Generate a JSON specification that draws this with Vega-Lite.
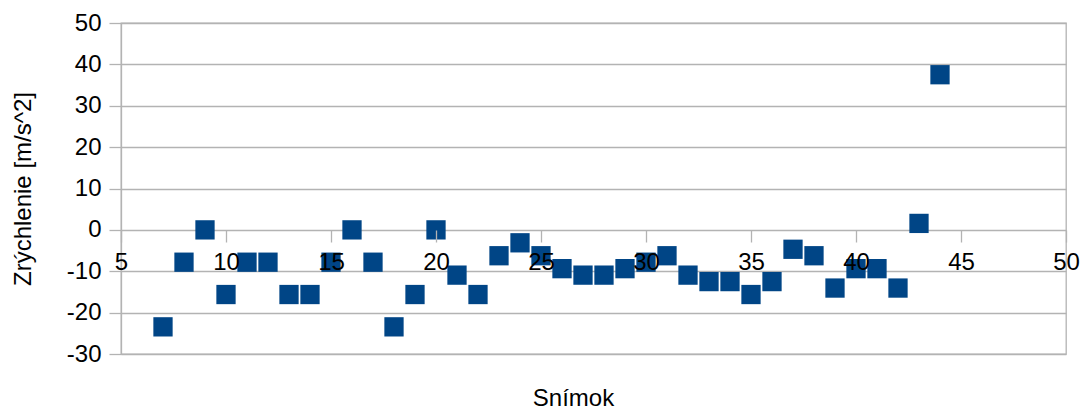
{
  "$schema": "https://vega.github.io/schema/vega-lite/v6.json",
  "width": 945,
  "height": 331,
  "autosize": "none",
  "padding": {"left": 121, "top": 23, "right": 18, "bottom": 56},
  "background": "white",
  "config": {
    "font": "Liberation Sans",
    "view": {"stroke": "#b3b3b3", "strokeWidth": 1.3}
  },
  "data": {
    "values": [
      {"snimok": 7, "a": -23.4375},
      {"snimok": 8, "a": -7.8125},
      {"snimok": 9, "a": 0},
      {"snimok": 10, "a": -15.625},
      {"snimok": 11, "a": -7.8125},
      {"snimok": 12, "a": -7.8125},
      {"snimok": 13, "a": -15.625},
      {"snimok": 14, "a": -15.625},
      {"snimok": 15, "a": -7.8125},
      {"snimok": 16, "a": 0},
      {"snimok": 17, "a": -7.8125},
      {"snimok": 18, "a": -23.4375},
      {"snimok": 19, "a": -15.625},
      {"snimok": 20, "a": 0},
      {"snimok": 21, "a": -10.9375},
      {"snimok": 22, "a": -15.625},
      {"snimok": 23, "a": -6.25},
      {"snimok": 24, "a": -3.125},
      {"snimok": 25, "a": -6.25},
      {"snimok": 26, "a": -9.375},
      {"snimok": 27, "a": -10.9375},
      {"snimok": 28, "a": -10.9375},
      {"snimok": 29, "a": -9.375},
      {"snimok": 30, "a": -7.8125},
      {"snimok": 31, "a": -6.25},
      {"snimok": 32, "a": -10.9375},
      {"snimok": 33, "a": -12.5},
      {"snimok": 34, "a": -12.5},
      {"snimok": 35, "a": -15.625},
      {"snimok": 36, "a": -12.5},
      {"snimok": 37, "a": -4.6875},
      {"snimok": 38, "a": -6.25},
      {"snimok": 39, "a": -14.0625},
      {"snimok": 40, "a": -9.375},
      {"snimok": 41, "a": -9.375},
      {"snimok": 42, "a": -14.0625},
      {"snimok": 43, "a": 1.5625},
      {"snimok": 44, "a": 37.5}
    ]
  },
  "mark": {"type": "point", "shape": "square", "filled": true, "size": 372, "color": "#004586", "opacity": 1},
  "encoding": {
    "x": {
      "field": "snimok",
      "type": "quantitative",
      "title": "Snímok",
      "scale": {"domain": [5, 50], "nice": false, "zero": false},
      "axis": {
        "values": [5, 10, 15, 20, 25, 30, 35, 40, 45, 50],
        "offset": -124,
        "zindex": 1,
        "grid": false,
        "domain": false,
        "tickColor": "#b3b3b3",
        "tickWidth": 1.3,
        "tickSize": 12,
        "labelExpr": "'' + datum.value",
        "labelFontSize": 24,
        "labelColor": "#000000",
        "labelPadding": 8,
        "labelFlush": false,
        "labelOverlap": false,
        "titleFontSize": 24,
        "titleFontWeight": "normal",
        "titleColor": "#000000",
        "titleX": 452,
        "titleY": 175,
        "titleBaseline": "alphabetic",
        "titleAlign": "center"
      }
    },
    "y": {
      "field": "a",
      "type": "quantitative",
      "title": "Zrýchlenie [m/s^2]",
      "scale": {"domain": [-30, 50], "nice": false, "zero": false},
      "axis": {
        "values": [-30, -20, -10, 0, 10, 20, 30, 40, 50],
        "grid": true,
        "gridColor": "#b3b3b3",
        "gridWidth": 1.3,
        "domainColor": "#b3b3b3",
        "domainWidth": 1.3,
        "tickColor": "#b3b3b3",
        "tickWidth": 1.3,
        "tickSize": 12,
        "labelExpr": "'' + datum.value",
        "labelFontSize": 24,
        "labelColor": "#000000",
        "labelPadding": 8,
        "labelFlush": false,
        "labelOverlap": false,
        "titleFontSize": 24,
        "titleFontWeight": "normal",
        "titleColor": "#000000",
        "titleX": -98,
        "titleBaseline": "middle"
      }
    }
  }
}
